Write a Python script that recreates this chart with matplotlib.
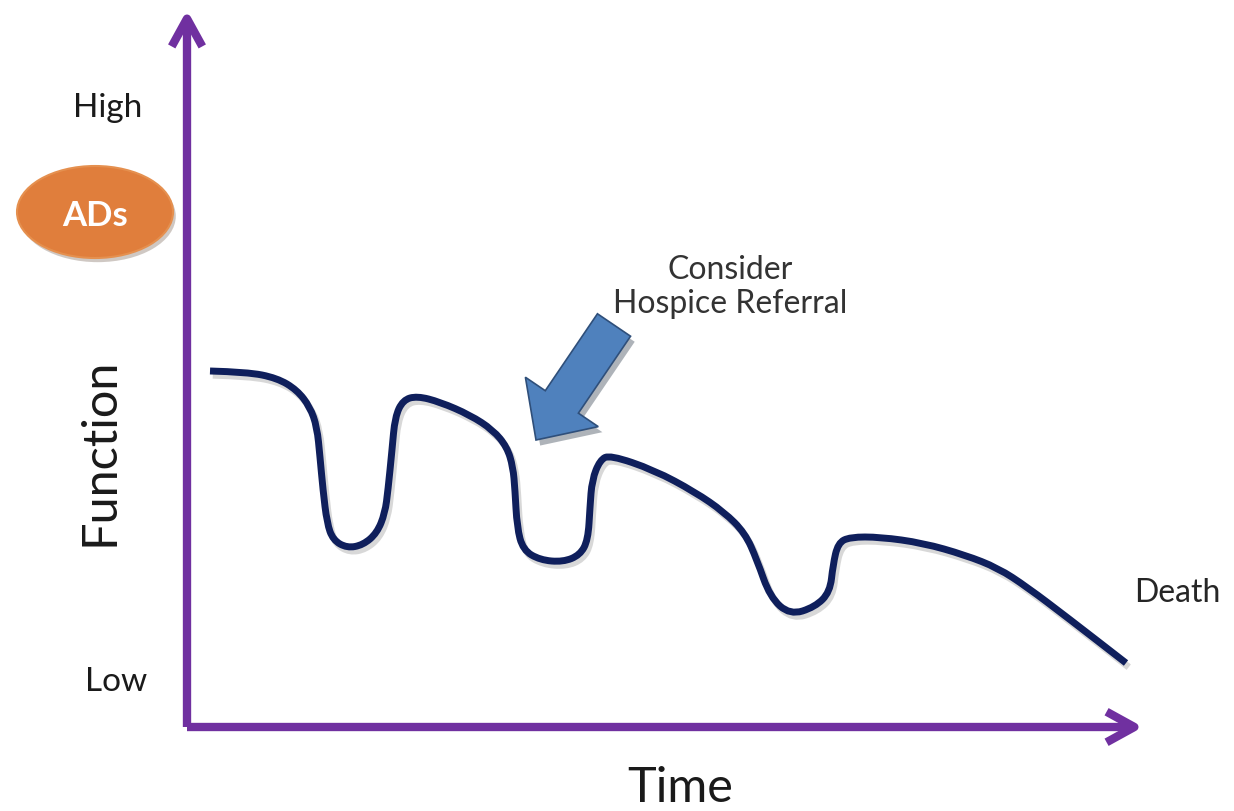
import matplotlib.pyplot as plt
import matplotlib.patches as mpatches
import matplotlib.patheffects as pe
from matplotlib.path import Path

plt.rcParams['font.family'] = ['Lato', 'DejaVu Sans']

# curve (pixel coords, y grows downward)
curve_x = [210, 247, 277, 297, 310, 317, 320, 323, 327, 333, 347, 363, 377, 385,
           388, 392, 395, 403, 417, 440, 470, 493, 507, 513, 515, 517, 523, 540,
           563, 580, 588, 590, 592, 600, 610, 654, 695, 724, 745, 757, 770, 790,
           815, 830, 833, 838, 850, 880, 923, 965, 998, 1027, 1068, 1126]
curve_y = [371, 372, 378, 390, 407, 427, 457, 490, 523, 540, 548, 545, 533, 513,
           490, 450, 417, 400, 396, 402, 415, 430, 447, 467, 490, 527, 550, 560,
           562, 555, 540, 507, 480, 460, 455, 470, 492, 512, 533, 560, 597, 615,
           607, 592, 565, 543, 537, 537, 543, 555, 568, 587, 618, 663]

axis_origin = (187, 727)
axis_top = 10
axis_right = 1143

hospice_tail = (614, 325)
hospice_tip = (536, 440)

purple = '#7030A0'
navy = '#0F1F5C'

fig = plt.figure(figsize=(12.34, 8.11), dpi=100)
ax = fig.add_axes([0, 0, 1, 1])
ax.set_xlim(0, 1234)
ax.set_ylim(811, 0)
ax.axis('off')

shadow = [pe.SimpleLineShadow(offset=(2, -3), shadow_color='gray', alpha=0.3), pe.Normal()]

# axes with open arrow heads
for end in [(axis_origin[0], axis_top), (axis_right, axis_origin[1])]:
    ax.annotate('', xy=end, xytext=axis_origin,
                arrowprops=dict(arrowstyle='->,head_length=1.0,head_width=0.55',
                                color=purple, lw=6, mutation_scale=20,
                                shrinkA=0, shrinkB=0, capstyle='butt'))

# function curve, smoothed with quadratic segments through the read points
pts = list(zip(curve_x, curve_y))
verts = [pts[0]]
codes = [Path.MOVETO]
for i in range(1, len(pts) - 1):
    mid = ((pts[i][0] + pts[i + 1][0]) / 2, (pts[i][1] + pts[i + 1][1]) / 2)
    verts += [pts[i], mid]
    codes += [Path.CURVE3, Path.CURVE3]
verts.append(pts[-1])
codes.append(Path.LINETO)
curve = mpatches.PathPatch(Path(verts, codes), facecolor='none', edgecolor=navy, lw=5,
                           capstyle='butt', joinstyle='round', path_effects=shadow)
ax.add_patch(curve)

# hospice referral arrow
arr = mpatches.FancyArrow(hospice_tail[0], hospice_tail[1],
                          hospice_tip[0] - hospice_tail[0], hospice_tip[1] - hospice_tail[1],
                          width=40, head_width=88, head_length=46,
                          length_includes_head=True, facecolor='#4F81BD',
                          edgecolor='#2F4F7A', lw=1.2,
                          path_effects=[pe.SimplePatchShadow(offset=(3, -4), alpha=0.35), pe.Normal()])
ax.add_patch(arr)

# ADs ellipse
ell = mpatches.Ellipse((95, 212), 156, 92, facecolor='#E07E3C', edgecolor='#E5904F', lw=1.5,
                       path_effects=[pe.SimplePatchShadow(offset=(2, -3), alpha=0.25), pe.Normal()])
ax.add_patch(ell)
ax.text(95, 216, 'ADs', color='white', fontsize=25, fontweight='bold', ha='center', va='center')

# labels
ax.text(108, 108, 'High', fontsize=24, color='#1a1a1a', ha='center', va='center')
ax.text(116, 682, 'Low', fontsize=24, color='#1a1a1a', ha='center', va='center')
ax.text(100, 452, 'Function', fontsize=35, color='#1a1a1a', ha='center', va='center', rotation=90)
ax.text(680, 788, 'Time', fontsize=35, color='#1a1a1a', ha='center', va='center')
ax.text(1177, 593, 'Death', fontsize=23, color='#262626', ha='center', va='center')
ax.text(730, 287, 'Consider\nHospice Referral', fontsize=23, color='#333333',
        ha='center', va='center', linespacing=1.2)

plt.savefig('out.png', dpi=100)
